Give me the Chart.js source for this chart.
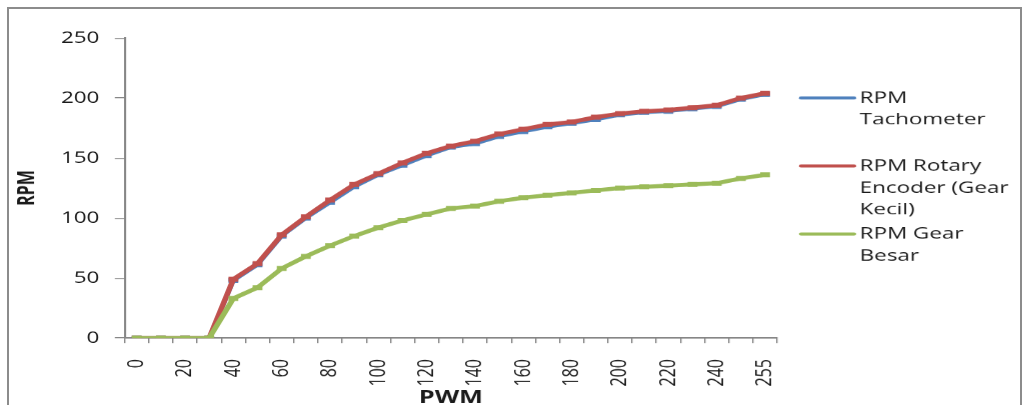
<!DOCTYPE html>
<html>
<head>
<meta charset="utf-8">
<script src="https://cdn.jsdelivr.net/npm/chart.js@4.4.0/dist/chart.umd.min.js"></script>
<style>
  html, body { margin: 0; padding: 0; background: #ffffff; overflow: hidden; }
  #frame { position: absolute; left: 7px; top: 7px; width: 1011px; height: 420px;
           border: 2px solid #8c8c8c; border-bottom: none; }
  #wrap { position: absolute; left: 0; top: 0; width: 733px; height: 405px;
          transform: scaleX(1.4); transform-origin: 0 0; }
</style>
</head>
<body>
<div id="frame"></div>
<div id="wrap"><canvas id="rpmchart" width="733" height="405"></canvas></div>
<script>
const pwm = ["0", "10", "20", "30", "40", "50", "60", "70", "80", "90", "100", "110", "120", "130",
             "140", "150", "160", "170", "180", "190", "200", "210", "220", "230", "240", "250", "255"];
const rpmTacho = [0, 0, 0, 0, 48, 61, 85, 100, 113, 126, 136, 144, 152, 159,
                  162, 168, 172, 176, 179, 182, 186, 188, 189, 191, 193, 199, 203];
const rpmEncoder = [0, 0, 0, 0, 49, 62, 86, 101, 115, 128, 137, 146, 154, 160,
                    164, 170, 174, 178, 180, 184, 187, 189, 190, 192, 194, 200, 204];
const rpmGearBesar = [0, 0, 0, 0, 33, 42, 58, 68, 77, 85, 92, 98, 103, 108,
                      110, 114, 117, 119, 121, 123, 125, 126, 127, 128, 129, 133, 136];
const yTicks = [0, 50, 100, 150, 200, 250];
const legendLines = [
    ["RPM", "Tachometer"],
    ["RPM Rotary", "Encoder (Gear", "Kecil)"],
    ["RPM Gear", "Besar"]
];

const fontName = "'Open Sans', sans-serif";

function makeSet(label, vals, color, width, order) {
    return {
        label: label,
        data: vals,
        borderColor: color,
        backgroundColor: color,
        borderWidth: width,
        pointStyle: 'line',
        pointRadius: 3.5,
        pointBorderWidth: 5,
        pointBorderColor: color,
        tension: 0,
        order: order
    };
}

// legend drawn by hand so the entries can wrap like the original
const sideLegend = {
    id: 'sideLegend',
    afterDraw(chart) {
        const ctx = chart.ctx;
        ctx.save();
        ctx.font = "16px " + fontName;
        ctx.textBaseline = 'middle';
        ctx.fillStyle = '#1a1a1a';
        chart.data.datasets.forEach(function (ds, i) {
            let y = 98 + i * 68;
            ctx.strokeStyle = ds.borderColor;
            ctx.lineWidth = 3;
            ctx.lineCap = 'round';
            ctx.beginPath();
            ctx.moveTo(572, y);
            ctx.lineTo(610, y);
            ctx.stroke();
            legendLines[i].forEach(function (t, j) {
                ctx.fillText(t, 614, y + j * 22);
            });
        });
        ctx.restore();
    }
};

const config = {
    type: 'line',
    data: {
        labels: pwm,
        datasets: [
            makeSet("RPM Tachometer", rpmTacho, '#4F81BD', 3.5, 2),
            makeSet("RPM Rotary Encoder (Gear Kecil)", rpmEncoder, '#C0504D', 4, 1),
            makeSet("RPM Gear Besar", rpmGearBesar, '#9BBB59', 4, 0)
        ]
    },
    options: {
        responsive: false,
        animation: false,
        devicePixelRatio: 1.4,
        layout: { padding: { top: 38, right: 178, bottom: 0, left: 0 } },
        plugins: {
            legend: { display: false },
            tooltip: { enabled: false }
        },
        scales: {
            x: {
                offset: true,
                grid: { offset: true, drawOnChartArea: false, drawTicks: true, tickLength: 5, color: '#868686' },
                border: { color: '#868686', width: 1.5 },
                ticks: {
                    autoSkip: false,
                    minRotation: 90,
                    maxRotation: 90,
                    padding: 16,
                    color: '#1a1a1a',
                    font: { family: fontName, size: 16 },
                    callback: function (value, index) {
                        return index % 2 === 0 ? this.getLabelForValue(value) : '';
                    }
                },
                title: {
                    display: true,
                    text: 'PWM',
                    color: '#1a1a1a',
                    font: { family: fontName, size: 18, weight: 'bold' },
                    padding: { top: 0, bottom: -3.5 }
                },
                afterFit: function (scale) { scale.height = 67; }
            },
            y: {
                min: 0,
                max: 250,
                afterBuildTicks: function (scale) {
                    scale.ticks = yTicks.map(function (v) { return { value: v }; });
                },
                grid: { drawOnChartArea: false, drawTicks: true, tickLength: 7, color: '#868686' },
                border: { color: '#868686', width: 1.5 },
                ticks: {
                    padding: 11,
                    color: '#1a1a1a',
                    font: { family: fontName, size: 16 }
                },
                title: {
                    display: true,
                    text: 'RPM',
                    color: '#1a1a1a',
                    font: { family: fontName, size: 16, weight: 'bold' },
                    padding: { top: 10, bottom: 0 }
                },
                afterFit: function (scale) { scale.width = 89; }
            }
        }
    },
    plugins: [sideLegend]
};

new Chart(document.getElementById("rpmchart"), config);
</script>
</body>
</html>
